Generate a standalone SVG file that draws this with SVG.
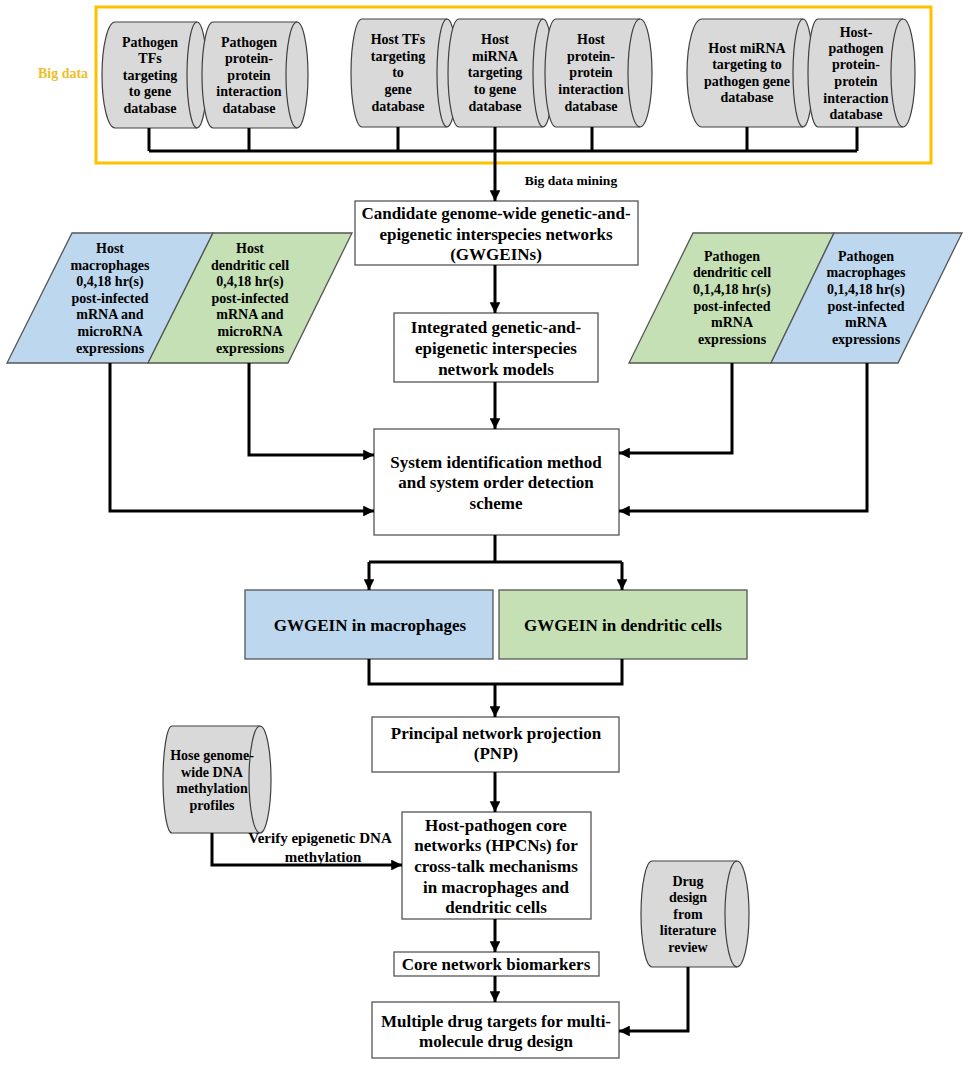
<svg xmlns="http://www.w3.org/2000/svg" width="970" height="1068" viewBox="0 0 970 1068">
<defs>
<marker id="ah" viewBox="0 0 10 10" markerWidth="4" markerHeight="3.6" refX="10" refY="5" orient="auto" markerUnits="strokeWidth"><path d="M0,0 L10,5 L0,10 z" fill="#000"/></marker>
<style>
text{font-family:"Liberation Serif","Times New Roman",serif;font-weight:bold;fill:#000;text-anchor:middle}
.db{fill:#D9D9D9;stroke:#404040;stroke-width:1.2}
.dbi{fill:none;stroke:#404040;stroke-width:1.2}
.box{fill:#fff;stroke:#555;stroke-width:1.3}
.blue{fill:#BDD7EE;stroke:#555;stroke-width:1.3}
.green{fill:#C5E0B4;stroke:#555;stroke-width:1.3}
.t14{font-size:14px}
.t16{font-size:17px}
.t17{font-size:17px}
.c{fill:none;stroke:#000;stroke-width:3}
.a{fill:none;stroke:#000;stroke-width:3;marker-end:url(#ah)}
</style>
</defs>
<rect width="970" height="1068" fill="#fff"/>

<g id="bigdata">
<rect x="96" y="7" width="835" height="156" fill="none" stroke="#FFC000" stroke-width="3"/>
<text x="63" y="78" style="font-size:14px;fill:#EDBE2A">Big data</text>
</g>

<g id="db1">
<path class="db" d="M115,22 L197,22 A10,53 0 0 1 197,128 L115,128 A13,53 0 0 1 115,22 Z"/>
<path class="dbi" d="M197,22 A10,53 0 0 0 197,128"/>
<text class="t14" x="150"><tspan x="150" y="47">Pathogen</tspan><tspan x="150" y="63">TFs</tspan><tspan x="150" y="80">targeting</tspan><tspan x="150" y="96">to gene</tspan><tspan x="150" y="113">database</tspan></text>
</g>
<g id="db2">
<path class="db" d="M213,22 L297,22 A11,53 0 0 1 297,128 L213,128 A11,53 0 0 1 213,22 Z"/>
<path class="dbi" d="M297,22 A11,53 0 0 0 297,128"/>
<text class="t14"><tspan x="249" y="47">Pathogen</tspan><tspan x="249" y="63">protein-</tspan><tspan x="249" y="80">protein</tspan><tspan x="249" y="96">interaction</tspan><tspan x="249" y="113">database</tspan></text>
</g>
<g id="db3">
<path class="db" d="M362,19 L447,19 A10,54 0 0 1 447,127 L362,127 A11,54 0 0 1 362,19 Z"/>
<path class="dbi" d="M447,19 A10,54 0 0 0 447,127"/>
<text class="t14"><tspan x="398" y="44">Host TFs</tspan><tspan x="398" y="61">targeting</tspan><tspan x="398" y="77">to</tspan><tspan x="398" y="94">gene</tspan><tspan x="398" y="111">database</tspan></text>
</g>
<g id="db4">
<path class="db" d="M459,19 L543,19 A10,54 0 0 1 543,127 L459,127 A11,54 0 0 1 459,19 Z"/>
<path class="dbi" d="M543,19 A10,54 0 0 0 543,127"/>
<text class="t14"><tspan x="495" y="44">Host</tspan><tspan x="495" y="61">miRNA</tspan><tspan x="495" y="77">targeting</tspan><tspan x="495" y="94">to gene</tspan><tspan x="495" y="111">database</tspan></text>
</g>
<g id="db5">
<path class="db" d="M556,19 L640,19 A12,54 0 0 1 640,127 L556,127 A11,54 0 0 1 556,19 Z"/>
<path class="dbi" d="M640,19 A12,54 0 0 0 640,127"/>
<text class="t14"><tspan x="591" y="44">Host</tspan><tspan x="591" y="61">protein-</tspan><tspan x="591" y="77">protein</tspan><tspan x="591" y="94">interaction</tspan><tspan x="591" y="111">database</tspan></text>
</g>
<g id="db6">
<path class="db" d="M702,19 L803,19 A10,54 0 0 1 803,127 L702,127 A15,54 0 0 1 702,19 Z"/>
<path class="dbi" d="M803,19 A10,54 0 0 0 803,127"/>
<text class="t14"><tspan x="747" y="53">Host miRNA</tspan><tspan x="747" y="69">targeting to</tspan><tspan x="747" y="86">pathogen gene</tspan><tspan x="747" y="102">database</tspan></text>
</g>
<g id="db7">
<path class="db" d="M818,19 L903,19 A12,54 0 0 1 903,127 L818,127 A10,54 0 0 1 818,19 Z"/>
<path class="dbi" d="M903,19 A12,54 0 0 0 903,127"/>
<text class="t14"><tspan x="856" y="37">Host-</tspan><tspan x="856" y="53">pathogen</tspan><tspan x="856" y="69">protein-</tspan><tspan x="856" y="86">protein</tspan><tspan x="856" y="103">interaction</tspan><tspan x="856" y="119">database</tspan></text>
</g>

<g id="candidate">
<rect class="box" x="355" y="201" width="283" height="64"/>
<text class="t16"><tspan x="496" y="219">Candidate genome-wide genetic-and-</tspan><tspan x="496" y="240">epigenetic interspecies networks</tspan><tspan x="496" y="260">(GWGEINs)</tspan></text>
</g>
<g id="integrated">
<rect class="box" x="394" y="313" width="204" height="69"/>
<text class="t16"><tspan x="496" y="333">Integrated genetic-and-</tspan><tspan x="496" y="354">epigenetic interspecies</tspan><tspan x="496" y="375">network models</tspan></text>
</g>
<g id="system">
<rect class="box" x="374" y="429" width="245" height="106"/>
<text class="t16"><tspan x="496" y="468">System identification method</tspan><tspan x="496" y="488">and  system order detection</tspan><tspan x="496" y="509">scheme</tspan></text>
</g>

<g id="hostMac">
<polygon class="blue" points="72,233 213,233 148,363 7,363"/>
<text class="t14"><tspan x="110" y="253">Host</tspan><tspan x="110" y="270">macrophages</tspan><tspan x="110" y="286">0,4,18 hr(s)</tspan><tspan x="110" y="303">post-infected</tspan><tspan x="110" y="319">mRNA and</tspan><tspan x="110" y="336">microRNA</tspan><tspan x="110" y="353">expressions</tspan></text>
</g>
<g id="hostDC">
<polygon class="green" points="213,233 352,233 288,363 148,363"/>
<text class="t14"><tspan x="250" y="253">Host</tspan><tspan x="250" y="270">dendritic cell</tspan><tspan x="250" y="286">0,4,18 hr(s)</tspan><tspan x="250" y="303">post-infected</tspan><tspan x="250" y="319">mRNA and</tspan><tspan x="250" y="336">microRNA</tspan><tspan x="250" y="353">expressions</tspan></text>
</g>
<g id="pathDC">
<polygon class="green" points="693,233 834,233 771,363 629,363"/>
<text class="t14"><tspan x="732" y="261">Pathogen</tspan><tspan x="732" y="277">dendritic cell</tspan><tspan x="732" y="294">0,1,4,18 hr(s)</tspan><tspan x="732" y="311">post-infected</tspan><tspan x="732" y="327">mRNA</tspan><tspan x="732" y="344">expressions</tspan></text>
</g>
<g id="pathMac">
<polygon class="blue" points="834,233 962,233 898,363 771,363"/>
<text class="t14"><tspan x="866" y="261">Pathogen</tspan><tspan x="866" y="277">macrophages</tspan><tspan x="866" y="294">0,1,4,18 hr(s)</tspan><tspan x="866" y="311">post-infected</tspan><tspan x="866" y="327">mRNA</tspan><tspan x="866" y="344">expressions</tspan></text>
</g>

<g id="gwMac">
<rect class="blue" x="245" y="590" width="248" height="69"/>
<text class="t17" x="370" y="631">GWGEIN in macrophages</text>
</g>
<g id="gwDC">
<rect class="green" x="499" y="590" width="248" height="69"/>
<text class="t17" x="623" y="631">GWGEIN in dendritic cells</text>
</g>

<g id="pnp">
<rect class="box" x="372" y="717" width="247" height="55"/>
<text class="t17"><tspan x="496" y="739">Principal network projection</tspan><tspan x="496" y="759">(PNP)</tspan></text>
</g>
<g id="methyl">
<path class="db" d="M172,726 L260,726 A11,53.5 0 0 1 260,833 L172,833 A9,53.5 0 0 1 172,726 Z"/>
<path class="dbi" d="M260,726 A11,53.5 0 0 0 260,833"/>
<text class="t14"><tspan x="212" y="760">Hose genome-</tspan><tspan x="212" y="777">wide DNA</tspan><tspan x="212" y="793">methylation</tspan><tspan x="212" y="810">profiles</tspan></text>
</g>
<g id="hpcn">
<rect class="box" x="402" y="812" width="189" height="107"/>
<text class="t16"><tspan x="496" y="831">Host-pathogen core</tspan><tspan x="496" y="851">networks (HPCNs) for</tspan><tspan x="496" y="872">cross-talk mechanisms</tspan><tspan x="496" y="893">in macrophages and</tspan><tspan x="496" y="913">dendritic cells</tspan></text>
</g>
<g id="drugdb">
<path class="db" d="M652,861 L737,861 A12,53 0 0 1 737,967 L652,967 A11,53 0 0 1 652,861 Z"/>
<path class="dbi" d="M737,861 A12,53 0 0 0 737,967"/>
<text class="t14"><tspan x="688" y="886">Drug</tspan><tspan x="688" y="902">design</tspan><tspan x="688" y="919">from</tspan><tspan x="688" y="935">literature</tspan><tspan x="688" y="952">review</tspan></text>
</g>
<g id="biomarkers">
<rect class="box" x="394" y="952" width="205" height="24"/>
<text class="t16" x="496" y="970">Core network biomarkers</text>
</g>
<g id="targets">
<rect class="box" x="372" y="1002" width="247" height="56"/>
<text class="t16"><tspan x="496" y="1027">Multiple drug targets for multi-</tspan><tspan x="496" y="1047">molecule drug design</tspan></text>
</g>

<g id="connectors">
<path class="c" d="M149,128 V151 M249,128 V151 M398,127 V151 M495,127 V151 M592,127 V151 M747,127 V151 M857,127 V151 M149,151 H857"/>
<path class="a" d="M495,151 V201"/>
<text x="571" y="185" style="font-size:13.5px">Big data mining</text>
<path class="a" d="M495,265 V313"/>
<path class="a" d="M495,382 V429"/>
<path class="a" d="M110,363 V511 H374"/>
<path class="a" d="M249,363 V455 H374"/>
<path class="a" d="M732,363 V453 H619"/>
<path class="a" d="M867,363 V511 H619"/>
<path class="c" d="M495,535 V562 M369,562 H622"/>
<path class="a" d="M369,562 V590"/>
<path class="a" d="M622,562 V590"/>
<path class="c" d="M369,659 V684 H622 V659"/>
<path class="a" d="M495,684 V717"/>
<path class="a" d="M495,772 V812"/>
<path class="a" d="M212,833 V865 H402"/>
<text style="font-size:15px"><tspan x="320" y="843">Verify epigenetic DNA</tspan><tspan x="323" y="862">methylation</tspan></text>
<path class="a" d="M495,919 V952"/>
<path class="a" d="M495,976 V1002"/>
<path class="a" d="M688,967 V1031 H619"/>
</g>
</svg>
